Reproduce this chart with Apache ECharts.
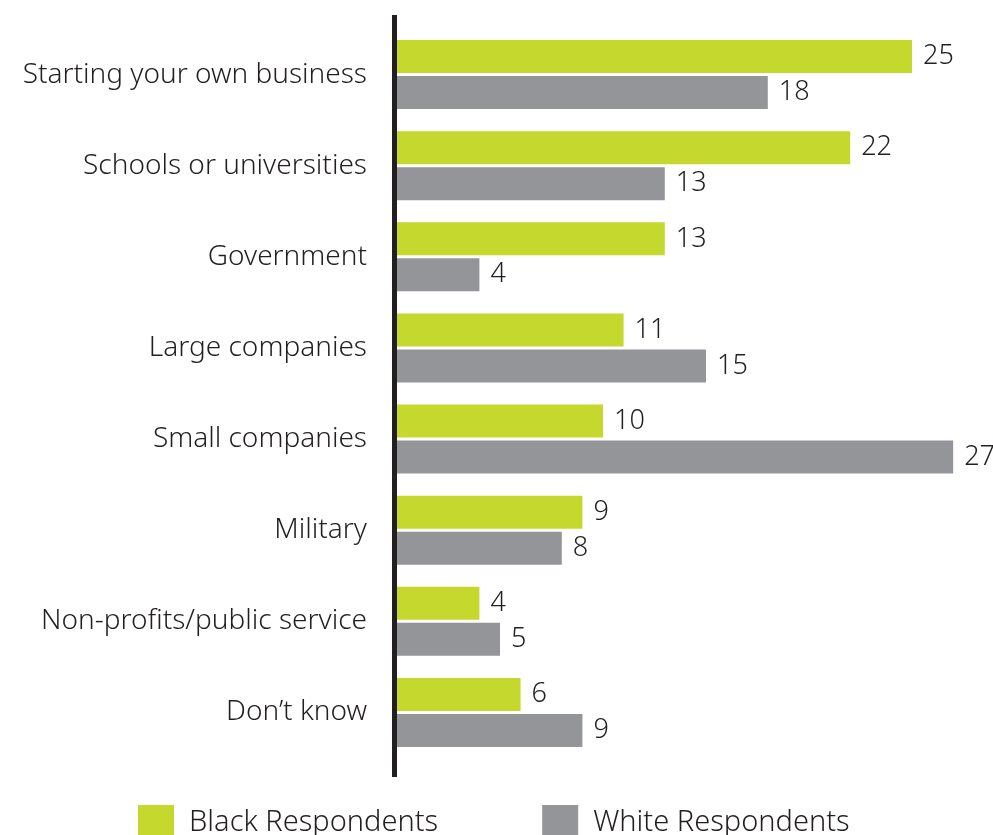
<!DOCTYPE html>
<html>
<head>
<meta charset="utf-8">
<script src="https://cdn.jsdelivr.net/npm/echarts@6/dist/echarts.min.js"></script>
<style>
  html, body { margin: 0; padding: 0; background: #ffffff; }
  #chart { width: 993px; height: 835px; }
</style>
</head>
<body>
<div id="chart"></div>
<script>
// Where respondents would look for opportunity (%)
const categories = [
  'Starting your own business',
  'Schools or universities',
  'Government',
  'Large companies',
  'Small companies',
  'Military',
  'Non-profits/public service',
  'Don\u2019t know'
];
const seriesNames = ['Black Respondents', 'White Respondents'];
const blackValues = [25, 22, 13, 11, 10, 9, 4, 6];
const whiteValues = [18, 13, 4, 15, 27, 8, 5, 9];

const FONT = '"Noto Sans", "Open Sans", sans-serif';
const TEXT = '#231f20';
const GREEN = '#c4d82e';
const GRAY = '#939598';

const chart = echarts.init(document.getElementById('chart'), null, { renderer: 'canvas' });

const labelStyle = {
  show: true,
  position: 'right',
  distance: 11,
  color: TEXT,
  fontFamily: FONT,
  fontWeight: 300,
  fontSize: 27
};

chart.setOption({
  animation: false,
  backgroundColor: '#ffffff',
  grid: { left: 397, top: 29, width: 576.8, height: 729, containLabel: false },
  xAxis: {
    type: 'value',
    min: 0,
    max: 28,
    show: false
  },
  yAxis: {
    type: 'category',
    data: categories,
    inverse: true,
    axisLine: { show: false },
    axisTick: { show: false },
    axisLabel: {
      color: TEXT,
      fontFamily: FONT,
      fontWeight: 300,
      fontSize: 28,
      margin: 30,
      padding: [4, 0, 0, 0]
    }
  },
  legend: {
    left: 138,
    top: 805,
    padding: 0,
    itemWidth: 36,
    itemHeight: 36,
    itemGap: 104,
    icon: 'rect',
    data: seriesNames,
    textStyle: {
      color: TEXT,
      fontFamily: FONT,
      fontWeight: 300,
      fontSize: 29,
      padding: [0, 0, 0, 10]
    }
  },
  graphic: [{
    // vertical baseline of the bars
    type: 'rect',
    shape: { x: 392, y: 15, width: 5, height: 762 },
    style: { fill: TEXT },
    z: 10
  }],
  series: [
    {
      name: seriesNames[0],
      type: 'bar',
      data: blackValues,
      barWidth: 33,
      barGap: '9%',
      itemStyle: { color: GREEN },
      label: labelStyle
    },
    {
      name: seriesNames[1],
      type: 'bar',
      data: whiteValues,
      barWidth: 33,
      barGap: '9%',
      itemStyle: { color: GRAY },
      label: labelStyle
    }
  ]
});
</script>
</body>
</html>
